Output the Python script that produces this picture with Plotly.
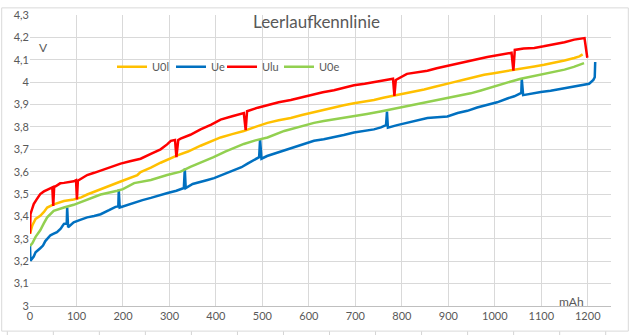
import plotly.graph_objects as go

# Leerlaufkennlinie: cell voltages over charged capacity
x_u0l = [0, 5, 12, 22, 30, 37, 51, 62, 73, 94, 110, 123, 152, 175, 195, 231, 238, 260, 281,
         317, 340, 367, 390, 410, 435, 460, 485, 511, 535, 561, 585, 611, 632, 654, 675, 697,
         720, 740, 760, 783, 805, 826, 848, 869, 890, 912, 933, 955, 977, 998, 1020, 1041,
         1063, 1085, 1106, 1128, 1150, 1171, 1182, 1189]
u0l = [3.323, 3.36, 3.389, 3.403, 3.42, 3.44, 3.454, 3.462, 3.469, 3.476, 3.485, 3.498, 3.52,
       3.538, 3.556, 3.585, 3.598, 3.618, 3.64, 3.673, 3.69, 3.716, 3.735, 3.753, 3.768, 3.782,
       3.8, 3.818, 3.83, 3.84, 3.853, 3.866, 3.877, 3.887, 3.897, 3.906, 3.913, 3.92, 3.93,
       3.939, 3.947, 3.956, 3.967, 3.978, 3.99, 4.0, 4.011, 4.022, 4.033, 4.04, 4.047, 4.055,
       4.062, 4.07, 4.078, 4.087, 4.097, 4.108, 4.115, 4.124]

x_ue = [0, 1, 8, 12, 22, 28, 33, 44, 50, 58, 66, 73, 79, 80, 82, 94, 108, 123, 138, 152, 170,
        184, 190, 191, 193, 207, 224, 242, 260, 277, 296, 315, 331, 333, 335, 350, 367, 382,
        396, 418, 439, 455, 468, 493, 495, 498, 510, 525, 547, 568, 590, 611, 632, 654, 675,
        697, 720, 740, 755, 766, 768, 770, 790, 811, 833, 855, 876, 898, 920, 941, 962, 984,
        1005, 1027, 1042, 1057, 1058, 1061, 1080, 1099, 1120, 1142, 1163, 1185, 1203, 1212,
        1215, 1216]
ue = [3.272, 3.202, 3.221, 3.24, 3.258, 3.27, 3.29, 3.316, 3.322, 3.33, 3.345, 3.367, 3.368,
      3.44, 3.352, 3.374, 3.385, 3.396, 3.402, 3.41, 3.428, 3.443, 3.445, 3.52, 3.44, 3.45,
      3.462, 3.473, 3.483, 3.494, 3.505, 3.515, 3.527, 3.614, 3.527, 3.545, 3.556, 3.563,
      3.571, 3.59, 3.607, 3.62, 3.636, 3.665, 3.745, 3.658, 3.67, 3.68, 3.695, 3.709, 3.724,
      3.738, 3.745, 3.753, 3.764, 3.775, 3.782, 3.789, 3.798, 3.808, 3.869, 3.797, 3.808,
      3.818, 3.83, 3.84, 3.843, 3.847, 3.862, 3.872, 3.887, 3.898, 3.91, 3.927, 3.937, 3.952,
      4.015, 3.942, 3.95, 3.956, 3.962, 3.971, 3.979, 3.986, 3.993, 4.01, 4.022, 4.09]

x_ulu = [0, 1, 4, 8, 14, 22, 30, 37, 44, 48, 50, 52, 55, 65, 73, 85, 94, 99, 101, 103, 109,
         123, 138, 152, 170, 195, 215, 238, 260, 281, 295, 303, 312, 315, 319, 324, 345, 367,
         390, 410, 435, 460, 464, 467, 490, 511, 535, 561, 585, 611, 630, 654, 675, 697, 720,
         740, 760, 781, 784, 787, 811, 833, 855, 875, 898, 920, 941, 962, 984, 1010, 1036, 1040,
         1043, 1062, 1085, 1105, 1128, 1150, 1171, 1193, 1199]
ulu = [3.323, 3.41, 3.43, 3.455, 3.475, 3.5, 3.512, 3.52, 3.528, 3.53, 3.447, 3.533, 3.535,
       3.548, 3.55, 3.553, 3.557, 3.562, 3.476, 3.56, 3.567, 3.585, 3.595, 3.605, 3.62, 3.636,
       3.647, 3.658, 3.68, 3.7, 3.722, 3.738, 3.742, 3.665, 3.742, 3.748, 3.765, 3.789, 3.81,
       3.833, 3.848, 3.862, 3.786, 3.87, 3.886, 3.898, 3.91, 3.92, 3.933, 3.945, 3.955, 3.964,
       3.975, 3.986, 3.993, 4.0, 4.008, 4.015, 3.939, 4.01, 4.037, 4.045, 4.051, 4.062, 4.073,
       4.085, 4.095, 4.102, 4.112, 4.12, 4.131, 4.051, 4.144, 4.15, 4.153, 4.16, 4.168, 4.178,
       4.19, 4.197, 4.109]

x_u0e = [0, 5, 12, 22, 30, 37, 51, 62, 73, 94, 110, 123, 152, 188, 200, 224, 260, 295, 324,
         345, 367, 395, 420, 445, 460, 485, 511, 547, 580, 611, 632, 654, 675, 697, 725, 754,
         775, 797, 820, 840, 862, 883, 905, 927, 948, 970, 991, 1013, 1035, 1056, 1078, 1099,
         1127, 1150, 1170, 1185, 1192]
u0e = [3.268, 3.28, 3.309, 3.338, 3.37, 3.396, 3.425, 3.433, 3.44, 3.452, 3.464, 3.476, 3.498,
       3.515, 3.522, 3.549, 3.563, 3.585, 3.6, 3.622, 3.64, 3.665, 3.69, 3.712, 3.724, 3.74,
       3.753, 3.782, 3.8, 3.818, 3.826, 3.833, 3.84, 3.847, 3.858, 3.869, 3.878, 3.887, 3.897,
       3.906, 3.915, 3.924, 3.933, 3.94, 3.95, 3.963, 3.977, 3.99, 4.003, 4.015, 4.025, 4.033,
       4.044, 4.056, 4.068, 4.078, 4.085]

series = [
    ("U0l", x_u0l, u0l, "#FFC000", 14),
    ("Ue", x_ue, ue, "#0070C0", 6),
    ("Ulu", x_ulu, ulu, "#FF0000", 12),
    ("U0e", x_u0e, u0e, "#92D050", 20),
]

W, H = 633, 335
ML, MR, MT, MB = 30, 22, 8, 29
PW, PH = W - ML - MR, H - MT - MB
FONT = "Lato"
GREY = "#595959"


def px(x, y):
    """Pixel position on the page -> paper coordinates."""
    return (x - ML) / PW, (H - MB - y) / PH


fig = go.Figure()
for name, xs, ys, color, lw in series:
    fig.add_trace(go.Scatter(x=xs, y=ys, name=name, mode="lines",
                             line=dict(color=color, width=2.5),
                             legendwidth=lw))

shapes = []
# outer chart frame
x0, y0 = px(1.7, 331.7)
x1, y1 = px(628.3, 0.7)
shapes.append(dict(type="rect", xref="paper", yref="paper", x0=x0, y0=y0, x1=x1, y1=y1,
                   line=dict(color="#D9D9D9", width=1), layer="above"))
# sheet cell borders below the frame
for k in range(14):
    cx = 7.3 + 46.03 * k
    a, b = px(cx, 332)
    _, c = px(cx, 336)
    shapes.append(dict(type="line", xref="paper", yref="paper", x0=a, x1=a, y0=b, y1=c,
                       line=dict(color="#D4D4D4", width=1)))

fig.update_layout(
    width=W, height=H,
    margin=dict(l=ML, r=MR, t=MT, b=MB),
    paper_bgcolor="white", plot_bgcolor="white",
    separators=",.",
    font=dict(family=FONT, size=11, color=GREY),
    title=dict(text="Leerlaufkennlinie", x=0.5, xref="container", xanchor="center",
               y=1 - 22 / H, yref="container", yanchor="middle",
               font=dict(family=FONT, size=17, color=GREY)),
    showlegend=True,
    legend=dict(orientation="h", x=px(112, 0)[0], xanchor="left",
                y=px(0, 61)[1], yanchor="middle",
                font=dict(family=FONT, size=11, color=GREY),
                bgcolor="rgba(0,0,0,0)", borderwidth=0,
                itemclick=False, tracegroupgap=0),
    xaxis=dict(range=[0, 1250], tick0=0, dtick=100, showgrid=True, gridcolor="#D9D9D9",
               gridwidth=1, zeroline=False, showline=True, linecolor="#BFBFBF",
               linewidth=1, ticks="", tickfont=dict(family=FONT, size=11, color=GREY)),
    yaxis=dict(range=[3, 4.3], tick0=3, dtick=0.1, showgrid=True, gridcolor="#D9D9D9",
               gridwidth=1, zeroline=False, showline=False, ticks="",
               tickfont=dict(family=FONT, size=11, color=GREY)),
    shapes=shapes,
    annotations=[
        dict(text="V", x=28, y=4.153, xref="x", yref="y", showarrow=False,
             font=dict(family=FONT, size=12, color=GREY)),
        dict(text="mAh", x=1165, y=3.018, xref="x", yref="y", showarrow=False,
             font=dict(family=FONT, size=12, color=GREY)),
    ],
)

fig.write_html("out.html")
